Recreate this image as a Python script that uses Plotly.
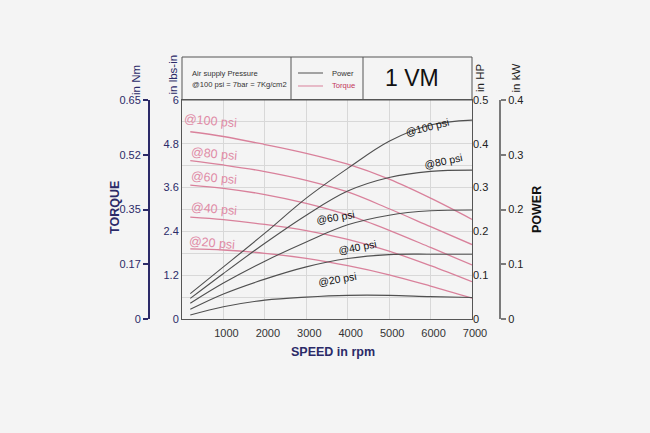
import plotly.graph_objects as go

# ---------------- data ----------------
rpm = [200, 1000, 2000, 3000, 4000, 5000, 6000, 7000]
pressure_labels = ["@100 psi", "@80 psi", "@60 psi", "@40 psi", "@20 psi"]

# torque in lbs-in
torque_100 = [5.13, 5.00, 4.78, 4.54, 4.24, 3.83, 3.31, 2.73]
torque_80 = [4.34, 4.22, 4.04, 3.80, 3.48, 3.02, 2.53, 2.04]
torque_60 = [3.67, 3.58, 3.41, 3.17, 2.85, 2.43, 1.96, 1.48]
torque_40 = [2.79, 2.72, 2.59, 2.42, 2.18, 1.86, 1.46, 1.02]
torque_20 = [1.92, 1.89, 1.80, 1.66, 1.46, 1.21, 0.90, 0.57]

# power in HP
power_100 = [0.058, 0.119, 0.196, 0.276, 0.344, 0.406, 0.443, 0.454]
power_80 = [0.047, 0.104, 0.173, 0.237, 0.292, 0.323, 0.337, 0.340]
power_60 = [0.036, 0.082, 0.132, 0.176, 0.215, 0.237, 0.247, 0.249]
power_40 = [0.022, 0.057, 0.091, 0.119, 0.138, 0.147, 0.148, 0.148]
power_20 = [0.009, 0.028, 0.043, 0.050, 0.054, 0.054, 0.051, 0.049]

# label anchor positions (rpm, value)
torque_label_rpm = [676, 772, 772, 784, 724]
torque_label_val = [5.43, 4.51, 3.87, 3.01, 2.09]
power_label_rpm = [5914, 6307, 3700, 4231, 3749]
power_label_val = [0.439, 0.361, 0.234, 0.165, 0.091]
power_label_angle = [-14, -12, -9, -11, -10]

x_ticks = [1000, 2000, 3000, 4000, 5000, 6000, 7000]
lbs_ticks = [0, 1.2, 2.4, 3.6, 4.8, 6]
lbs_text = ["0", "1.2", "2.4", "3.6", "4.8", "6"]
hp_ticks = [0, 0.1, 0.2, 0.3, 0.4, 0.5]
hp_text = ["0", "0.1", "0.2", "0.3", "0.4", "0.5"]
nm_text = ["0", "0.17", "0.35", "0.52", "0.65"]
kw_text = ["0", "0.1", "0.2", "0.3", "0.4"]

# ---------------- styling ----------------
W, H = 650, 433
ML, MR, MT, MB = 10, 10, 10, 10
PW, PH = W - ML - MR, H - MT - MB


def px(x):
    return (x - ML) / PW


def py(y):
    return (H - MB - y) / PH


BG = "#f4f4f4"
NAVY = "#2b2a68"
PINK = "#d9819b"
PINK_TXT = "#e08ba6"
GRAYLINE = "#505050"
GRID = "#d8d8d8"
FONT = "Liberation Sans, Arial, sans-serif"

fig = go.Figure()

torques = [torque_100, torque_80, torque_60, torque_40, torque_20]
powers = [power_100, power_80, power_60, power_40, power_20]

for t in torques:
    fig.add_trace(go.Scatter(x=rpm, y=t, mode="lines", xaxis="x", yaxis="y",
                             line=dict(color=PINK, width=1.3, shape="spline", smoothing=1.0),
                             hoverinfo="skip", showlegend=False))
for p in powers:
    fig.add_trace(go.Scatter(x=rpm, y=p, mode="lines", xaxis="x", yaxis="y2",
                             line=dict(color=GRAYLINE, width=1.1, shape="spline", smoothing=1.0),
                             hoverinfo="skip", showlegend=False))
# empty traces to register the secondary unit axes
fig.add_trace(go.Scatter(x=[], y=[], yaxis="y3", showlegend=False, hoverinfo="skip"))
fig.add_trace(go.Scatter(x=[], y=[], yaxis="y4", showlegend=False, hoverinfo="skip"))

annotations = []
for lab, xr, yv in zip(pressure_labels, torque_label_rpm, torque_label_val):
    annotations.append(dict(x=xr, y=yv, xref="x", yref="y", text=lab, showarrow=False,
                            textangle=5, font=dict(family=FONT, size=12.5, color=PINK_TXT)))
for lab, xr, yv, ang in zip(pressure_labels, power_label_rpm, power_label_val, power_label_angle):
    annotations.append(dict(x=xr, y=yv, xref="x", yref="y2", text=lab, showarrow=False,
                            textangle=ang, font=dict(family=FONT, size=10.5, color="#111")))


def ann(x, y, text, size=11, color="#222", angle=0, xanchor="center", bold=False, family=FONT):
    if bold:
        text = "<b>" + text + "</b>"
    annotations.append(dict(x=px(x), y=py(y), xref="paper", yref="paper", text=text,
                            showarrow=False, textangle=angle, xanchor=xanchor, yanchor="middle",
                            font=dict(family=family, size=size, color=color)))


ann(136, 80, "in Nm", 11.5, NAVY, -90)
ann(172.5, 75, "in lbs-in", 11.5, NAVY, -90)
ann(480, 78, "in HP", 11.5, "#222", -90)
ann(516, 78.5, "in kW", 11.5, "#222", -90)
ann(115, 208, "TORQUE", 12.5, NAVY, -90, bold=True)
ann(537, 210, "POWER", 12.5, "#111", -90, bold=True)
ann(333, 352, "SPEED in rpm", 12.5, NAVY, bold=True)

ann(190, 74, "Air supply Pressure", 7.6, "#333", xanchor="left")
ann(190, 84.5, "@100 psi = 7bar = 7Kg/cm2", 7.6, "#333", xanchor="left")
ann(330, 73, "Power", 7.6, "#333", xanchor="left")
ann(330, 85.5, "Torque", 7.6, "#c2365a", xanchor="left")
ann(412, 78, "1 VM", 23, "#111")

shapes = [
    dict(type="rect", xref="paper", yref="paper", x0=px(182), x1=px(472), y0=py(100), y1=py(57),
         line=dict(color="#555", width=1), fillcolor="rgba(0,0,0,0)"),
    dict(type="line", xref="paper", yref="paper", x0=px(291), x1=px(291), y0=py(100), y1=py(57),
         line=dict(color="#555", width=1)),
    dict(type="line", xref="paper", yref="paper", x0=px(363), x1=px(363), y0=py(100), y1=py(57),
         line=dict(color="#555", width=1)),
    dict(type="line", xref="paper", yref="paper", x0=px(298), x1=px(323), y0=py(73), y1=py(73),
         line=dict(color=GRAYLINE, width=1)),
    dict(type="line", xref="paper", yref="paper", x0=px(298), x1=px(323), y0=py(86), y1=py(86),
         line=dict(color=PINK, width=1)),
]

tickfont = dict(family=FONT, size=11, color="#333")

fig.update_layout(
    width=W, height=H, autosize=False,
    margin=dict(l=ML, r=MR, t=MT, b=MB, pad=0, autoexpand=False),
    paper_bgcolor=BG, plot_bgcolor=BG,
    showlegend=False,
    font=dict(family=FONT),
    xaxis=dict(domain=[px(182), px(472)], range=[0, 7000], tickvals=x_ticks,
               showgrid=True, gridcolor=GRID, gridwidth=1, zeroline=False,
               showline=True, mirror=True, linecolor="#555", linewidth=1,
               ticks="", tickfont=tickfont, fixedrange=True, automargin=False,
               ticklabelstandoff=4, ticklabelshift=3),
    yaxis=dict(domain=[py(319), py(100)], range=[0, 6], tickvals=lbs_ticks, ticktext=lbs_text,
               showgrid=True, gridcolor=GRID, gridwidth=1, zeroline=False,
               minor=dict(tickvals=[0.6, 1.8, 3.0, 4.2, 5.4], showgrid=True, gridcolor=GRID, gridwidth=1),
               showline=True, mirror=True, linecolor="#555", linewidth=1,
               ticks="", tickfont=dict(family=FONT, size=11, color=NAVY), fixedrange=True,
               automargin=False),
    yaxis2=dict(overlaying="y", side="right", anchor="x", range=[0, 0.5],
                tickvals=hp_ticks, ticktext=hp_text, showgrid=False, zeroline=False,
                showline=False, ticks="", tickfont=dict(family=FONT, size=11, color="#222"),
                fixedrange=True, automargin=False),
    yaxis3=dict(overlaying="y", side="left", anchor="free", position=px(149), range=[0, 4],
                tickvals=[0, 1, 2, 3, 4], ticktext=nm_text, showgrid=False, zeroline=False,
                showline=True, linecolor=NAVY, linewidth=2, ticks="outside", ticklen=5,
                tickwidth=1.5, tickcolor=NAVY, tickfont=dict(family=FONT, size=11, color=NAVY),
                fixedrange=True, automargin=False),
    yaxis4=dict(overlaying="y", side="right", anchor="free", position=px(500), range=[0, 4],
                tickvals=[0, 1, 2, 3, 4], ticktext=kw_text, showgrid=False, zeroline=False,
                showline=True, linecolor="#7a7a7a", linewidth=2, ticks="outside", ticklen=5,
                tickwidth=1.5, tickcolor="#7a7a7a", tickfont=dict(family=FONT, size=11, color="#222"),
                fixedrange=True, automargin=False),
    annotations=annotations,
    shapes=shapes,
)

fig.write_html("out.html")
